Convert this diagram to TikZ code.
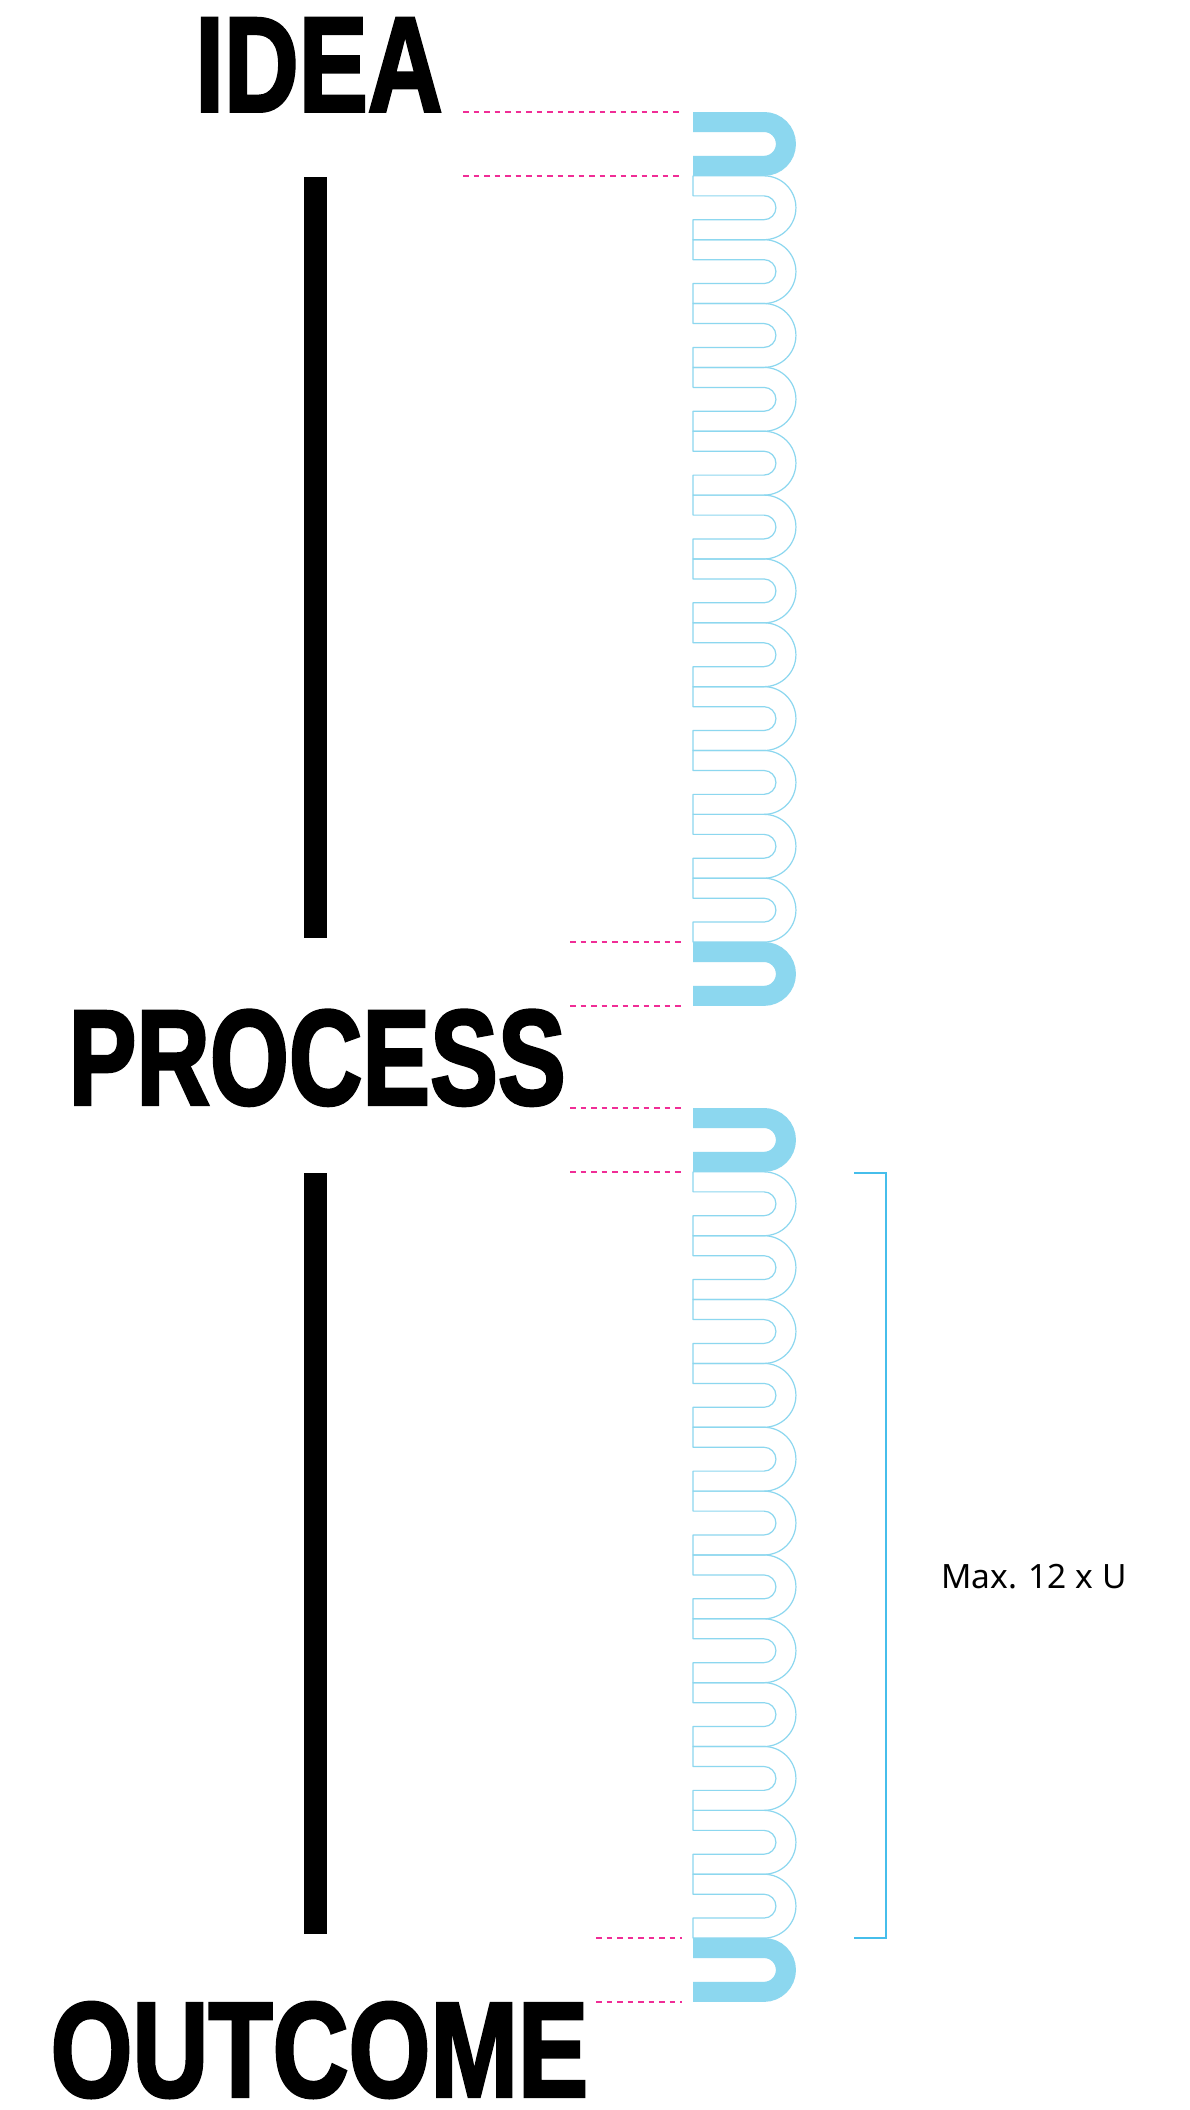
\documentclass[tikz,border=0pt]{standalone}
\usepackage{fontspec}
\setmainfont{Liberation Sans}
\newfontfamily\headfont{Liberation Sans}[BoldFeatures={FakeBold=2.5}]
\newfontfamily\notefont{Noto Sans}
\usetikzlibrary{calc}
\definecolor{usky}{RGB}{140,215,239}
\definecolor{guidepink}{RGB}{240,45,150}
\definecolor{brkblue}{RGB}{70,190,235}
\tikzset{
  ufill/.style={line width=20pt, usky},
  uline/.style={line width=1.2pt, usky, line join=round},
  guide/.style={line width=1.4pt, guidepink, dash pattern=on 5.5pt off 5pt},
  bar/.style={fill=black},
  brk/.style={line width=1.3pt, brkblue},
  head/.style={inner sep=0pt, anchor=base west,
    font=\headfont\bfseries\fontsize{135}{136}\selectfont},
}

\begin{document}
\begin{tikzpicture}[x=1pt,y=-1pt]
  \useasboundingbox (0,0) rectangle (1189,2110);
  \fill[white] (0,0) rectangle (1189,2110);
  % solid U at each end
  \foreach \t in {112,942,1108,1938}
    \draw[ufill] (693,\t+10) -- (764,\t+10) arc(-90:90:21.925) -- (693,\t+53.85);
  % outlined U in between
  \foreach \s in {112,1108}
    \foreach \k in {1,...,12}{
      \pgfmathsetmacro{\t}{\s+\k*63.85}
      \draw[uline] (693,\t) -- (764,\t) arc(-90:90:31.925) -- (693,\t+63.85)
        -- (693,\t+43.85) -- (764,\t+43.85) arc(90:-90:11.925) -- (693,\t+20) -- cycle;
    }
  \draw[guide] (463,112) -- (682,112);
  \draw[guide] (463,176) -- (682,176);
  \draw[guide] (570,942) -- (682,942);
  \draw[guide] (570,1006) -- (682,1006);
  \draw[guide] (570,1108) -- (682,1108);
  \draw[guide] (570,1172) -- (682,1172);
  \draw[guide] (596,1938) -- (682,1938);
  \draw[guide] (596,2002) -- (682,2002);
  \fill[bar] (304,177) rectangle (327,938);
  \fill[bar] (304,1173) rectangle (327,1934);
  \draw[brk] (854,1173) -- (886,1173) -- (886,1938) -- (854,1938);
  \node[head, xscale=0.767] (idea) at (195,111.3) {IDEA};
  \node[head, xscale=0.753] (process) at (68.5,1104.3) {PROCESS};
  \node[head, xscale=0.779] (outcome) at (50.5,2096.5) {OUTCOME};
  \node[inner sep=0pt, anchor=base west, font=\notefont\fontsize{33.5}{35}\selectfont]
    (maxu) at (941,1588) {Max. 12 x U};
\end{tikzpicture}
\end{document}
